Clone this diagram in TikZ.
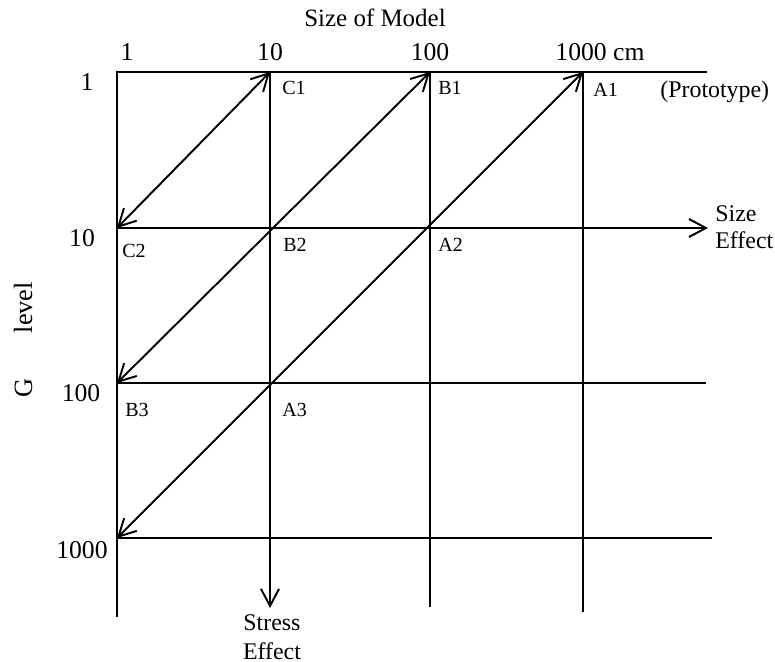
\documentclass[tikz,border=0pt]{standalone}
\usepackage{fontspec}
\setmainfont{Liberation Serif}
\usetikzlibrary{arrows.meta}

\begin{document}
\begin{tikzpicture}[x=0.02cm,y=-0.02cm,
    >={Straight Barb[length=3.4mm,width=3.6mm]},
    gridline/.style={line width=1.1pt},
    scale num/.style={inner sep=0pt,font=\fontsize{14.6}{16}\selectfont},
    point/.style={inner sep=0pt,anchor=west,font=\fontsize{11.4}{13}\selectfont},
    effect/.style={inner sep=0pt,font=\fontsize{13.6}{16}\selectfont}
]
    \useasboundingbox (0,0) rectangle (775,662);

    % grid corners
    \coordinate (O) at (117,72);
    \coordinate (C1) at (270,72);
    \coordinate (B1) at (430,72);
    \coordinate (A1) at (583,72);
    \coordinate (C2) at (117,228);
    \coordinate (B3) at (117,383);
    \coordinate (D4) at (117,538);
    % free ends
    \coordinate (top end) at (707,72);
    \coordinate (size end) at (708,228);
    \coordinate (row3 end) at (706,383);
    \coordinate (row4 end) at (712,538);
    \coordinate (col1 end) at (117,617);
    \coordinate (stress end) at (270,608);
    \coordinate (col3 end) at (430,607);
    \coordinate (col4 end) at (583,612);

    \draw[gridline] (col1 end) -- (O) -- (top end);
    \draw[gridline,->] (C2) -- (size end);
    \draw[gridline] (B3) -- (row3 end);
    \draw[gridline] (D4) -- (row4 end);
    \draw[gridline,->] (C1) -- (stress end);
    \draw[gridline] (B1) -- (col3 end);
    \draw[gridline] (A1) -- (col4 end);

    \draw[gridline,<->] (C1) -- (C2);
    \draw[gridline,<->] (B1) -- (B3);
    \draw[gridline,<->] (A1) -- (D4);

    % axis texts
    \node[scale num,font=\fontsize{14.2}{16}\selectfont] (model) at (375,18) {Size of Model};
    \node[scale num] (s1) at (127,52) {1};
    \node[scale num] (s10) at (270,52) {10};
    \node[scale num] (s100) at (430,52) {100};
    \node[scale num] (s1000) at (600,52) {1000 cm};

    \node[scale num] (g1) at (87,82) {1};
    \node[scale num] (g10) at (82,238) {10};
    \node[scale num] (g100) at (81,393) {100};
    \node[scale num] (g1000) at (82,550) {1000};
    \node[scale num,rotate=90,font=\fontsize{15}{16}\selectfont] (glevel) at (23,340) {G\hspace{26pt}level};

    \node[point] (lC1) at (282,88) {C1};
    \node[point] (lB1) at (438,88) {B1};
    \node[point] (lA1) at (593,90) {A1};
    \node[point] (lC2) at (122,251) {C2};
    \node[point] (lB2) at (283,245) {B2};
    \node[point] (lA2) at (438,245) {A2};
    \node[point] (lB3) at (125,410) {B3};
    \node[point] (lA3) at (282,410) {A3};

    \node[effect,anchor=west] (proto) at (660,92) {(Prototype)};
    \node[effect,anchor=west,align=left,font=\fontsize{13.6}{15.4}\selectfont] (size) at (715,227) {Size\\Effect};
    \node[effect,align=center,font=\fontsize{13.6}{16.5}\selectfont] (stress) at (272,637) {Stress\\Effect};
\end{tikzpicture}
\end{document}
